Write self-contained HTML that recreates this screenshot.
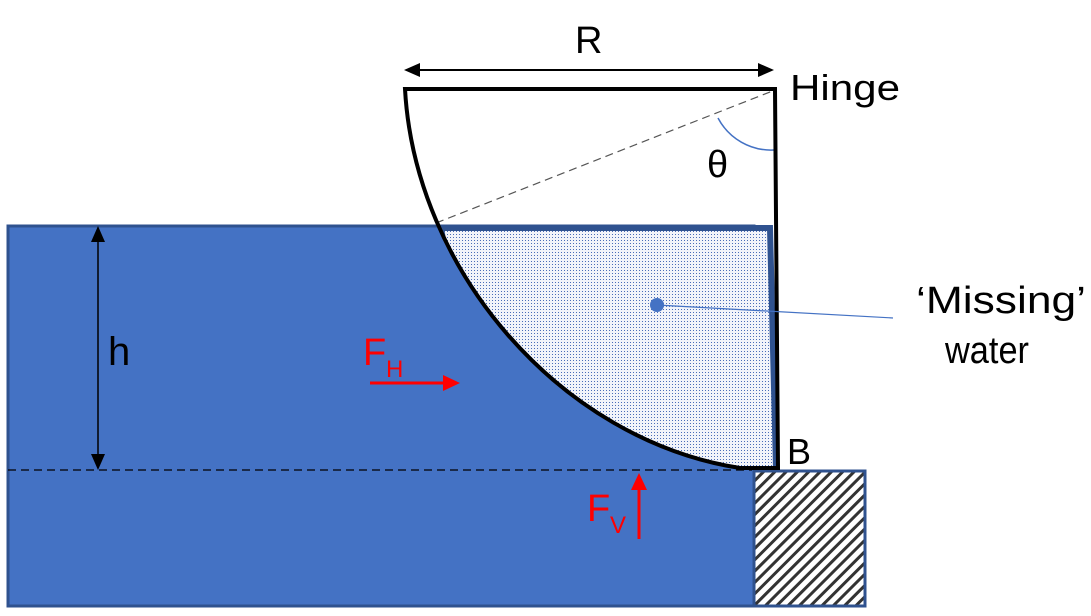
<!DOCTYPE html>
<html><head><meta charset="utf-8"><style>body{margin:0;background:#fff}svg{display:block}</style></head>
<body>
<svg width="1091" height="616" viewBox="0 0 1091 616" xmlns="http://www.w3.org/2000/svg" font-family="Liberation Sans, sans-serif">
<defs>
<pattern id="dots" width="3" height="3" patternUnits="userSpaceOnUse"><rect width="3" height="3" fill="#f2f4fa"/><rect width="1" height="1" fill="#4a6db8"/></pattern>
<pattern id="hatch" width="8" height="8" patternUnits="userSpaceOnUse" patternTransform="rotate(45)"><rect width="8" height="8" fill="#fff"/><rect width="3" height="8" fill="#333"/></pattern>
<clipPath id="gate"><path d="M405,89 L775,89 L778,468 L740,468 C560,440 415,270 405,89 Z"/></clipPath>
</defs>
<rect x="8" y="226" width="746" height="380" fill="#4472C4" stroke="#2F528F" stroke-width="3"/>
<rect x="754" y="471" width="111" height="135" fill="url(#hatch)" stroke="#2F528F" stroke-width="3"/>
<g clip-path="url(#gate)">
<path d="M441,228 L770,228 L776,468 L700,495 L300,495 L447,262 Z" fill="url(#dots)" stroke="#2F528F" stroke-width="6"/>
</g>
<line x1="8" y1="470" x2="752" y2="470" stroke="#000" stroke-width="1.2" stroke-dasharray="8,5"/>
<line x1="436" y1="223" x2="775" y2="90" stroke="#555" stroke-width="1.2" stroke-dasharray="8,5"/>
<path d="M718,118 A60 60 0 0 0 774,150" fill="none" stroke="#4472C4" stroke-width="1.5"/>
<path d="M405,89 L775,89 L778,468 L740,468 C560,440 415,270 405,89 Z" fill="none" stroke="#000" stroke-width="4"/>
<line x1="418" y1="70" x2="760" y2="70" stroke="#000" stroke-width="2"/>
<polygon points="404,70 420,63 420,77" fill="#000"/>
<polygon points="774,70 758,63 758,77" fill="#000"/>
<line x1="98" y1="238" x2="98" y2="458" stroke="#000" stroke-width="1.5"/>
<polygon points="98,226 91,242 105,242" fill="#000"/>
<polygon points="98,470 91,454 105,454" fill="#000"/>
<line x1="657" y1="305" x2="893" y2="318" stroke="#4472C4" stroke-width="1.2"/>
<circle cx="657" cy="305" r="7" fill="#4472C4"/>
<line x1="370" y1="383" x2="445" y2="383" stroke="#f00" stroke-width="3"/>
<polygon points="460,383 443,375 443,391" fill="#f00"/>
<line x1="639" y1="539" x2="639" y2="488" stroke="#f00" stroke-width="3"/>
<polygon points="639,473 631,490 647,490" fill="#f00"/>
<g font-size="36" fill="#000">
<text x="575" y="53" font-size="38">R</text>
<text x="790" y="100" textLength="110" lengthAdjust="spacingAndGlyphs">Hinge</text>
<text x="707" y="177" font-size="38">θ</text>
<text x="108" y="365" font-size="40">h</text>
<text x="787" y="464">B</text>
<text x="916" y="313" font-size="38" textLength="170" lengthAdjust="spacingAndGlyphs">‘Missing’</text>
<text x="945" y="363" font-size="38" textLength="84" lengthAdjust="spacingAndGlyphs">water</text>
</g>
<g fill="#f00">
<text x="363" y="365" font-size="38">F</text>
<text x="386" y="377" font-size="24">H</text>
<text x="587" y="521" font-size="38">F</text>
<text x="610" y="533" font-size="24">V</text>
</g>
</svg>
</body></html>
